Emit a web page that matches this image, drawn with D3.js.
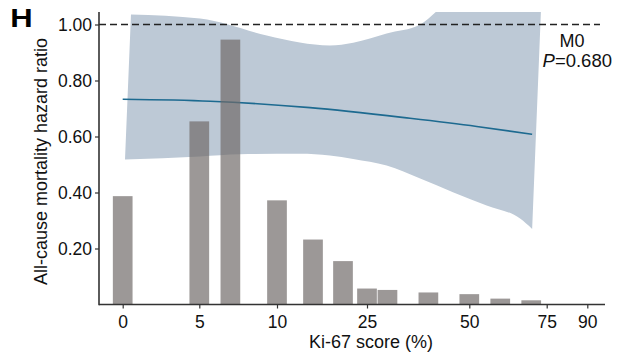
<!DOCTYPE html>
<html>
<head>
<meta charset="utf-8">
<script src="https://cdn.jsdelivr.net/npm/d3@7"></script>
<style>
  html, body { margin: 0; padding: 0; background: #fff; }
  svg { display: block; font-family: "Liberation Sans", Arial, sans-serif; }
</style>
</head>
<body>
<svg id="chart" width="627" height="356"></svg>
<script>
// ---- data ----
const xTickValues = [0, 5, 10, 25, 50, 75, 90];
const xTickLabels = ["0", "5", "10", "25", "50", "75", "90"];
const yTickValues = [0.2, 0.4, 0.6, 0.8, 1.0];
const yTickLabels = ["0.20", "0.40", "0.60", "0.80", "1.00"];

const barX = [0, 5, 7, 10, 16, 21, 25, 30, 40, 50, 60, 70];
const barHeight = [0.387, 0.654, 0.946, 0.372, 0.232, 0.155, 0.057, 0.052, 0.043, 0.037, 0.021, 0.015];

const lineX = [0, 5.7, 15.5, 35.5, 52.4, 70.3];
const lineHR = [0.733, 0.726, 0.703, 0.665, 0.636, 0.608];

const upperX = [0.54, 5.05, 9.34, 13.8, 18.8, 22.7, 29.8, 38, 44, 55, 73.4];
const upperHR = [1.036, 1.021, 0.961, 0.936, 0.925, 0.935, 0.968, 1.0, 1.07, 1.12, 1.12];
const lowerX = [0.15, 5.05, 7.62, 13.8, 18.8, 22.7, 29.8, 38, 46, 55.6, 66.4, 70.3];
const lowerHR = [0.518, 0.529, 0.537, 0.538, 0.532, 0.520, 0.496, 0.45, 0.401, 0.354, 0.307, 0.270];

const refLine = 1.0;
const modelLabel = "M0";
const pLabel = "0.680";
const panelLabel = "H";
const xTitle = "Ki-67 score (%)";
const yTitle = "All-cause mortality hazard ratio";

// ---- layout ----
const svg = d3.select("#chart");
const axisColor = "#333";
const yMax = 1.045;

// non-linear (piecewise) x scale, knots at tick values
const x = d3.scaleLinear()
  .domain(xTickValues)
  .range([122.7, 199.3, 277, 367, 469.3, 546.7, 587.3]);
const y = d3.scaleLinear().domain([0, 1]).range([304.5, 24.5]);

const xLeft = 99, xRight = 605;

// clip
svg.append("clipPath").attr("id", "clip")
  .append("rect").attr("x", xLeft).attr("y", y(yMax))
  .attr("width", xRight - xLeft).attr("height", y(0) - y(yMax));

// confidence band
const up = upperX.map((d, i) => [x(d), y(upperHR[i])]);
const lo = lowerX.map((d, i) => [x(d), y(lowerHR[i])]).reverse();
const mono = d3.line().curve(d3.curveMonotoneX);
const bandPath = mono(up) + "L" + mono(lo).slice(1) + "Z";
svg.append("path")
  .attr("d", bandPath)
  .attr("fill", "#bdc9d6")
  .attr("clip-path", "url(#clip)");

// fitted line
svg.append("path")
  .datum(lineX.map((d, i) => [d, lineHR[i]]))
  .attr("d", d3.line().x(d => x(d[0])).y(d => y(d[1])).curve(d3.curveMonotoneX))
  .attr("fill", "none")
  .attr("stroke", "#1d6a90")
  .attr("stroke-width", 1.6);

// bars (histogram)
const barW = 19.7;
svg.append("g").selectAll("rect")
  .data(barX.map((d, i) => ({ x: d, h: barHeight[i] })))
  .join("rect")
  .attr("x", d => x(d.x) - barW / 2)
  .attr("y", d => y(d.h))
  .attr("width", barW)
  .attr("height", d => y(0) - y(d.h))
  .attr("fill", "#6f6a68")
  .attr("fill-opacity", 0.69);

// reference dashed line
svg.append("line")
  .attr("x1", xLeft).attr("x2", 600)
  .attr("y1", y(refLine)).attr("y2", y(refLine))
  .attr("stroke", "#222").attr("stroke-width", 1.4)
  .attr("stroke-dasharray", "7,4");

// axes
const xAxis = d3.axisBottom(x).tickValues(xTickValues)
  .tickFormat((d, i) => xTickLabels[i]).tickSize(4).tickSizeOuter(0).tickPadding(7);
const gx = svg.append("g").attr("transform", `translate(0,${y(0)})`).call(xAxis);
gx.select(".domain").remove();
gx.append("line").attr("x1", xLeft).attr("x2", xRight).attr("y1", 0).attr("y2", 0)
  .attr("stroke", axisColor).attr("stroke-width", 1.6);
gx.selectAll(".tick line").attr("stroke", axisColor).attr("stroke-width", 1.2);
gx.selectAll(".tick text").attr("fill", "#111").attr("font-size", 17.5)
  .attr("font-family", "Liberation Sans, Arial, sans-serif");

const yAxis = d3.axisLeft(y).tickValues(yTickValues)
  .tickFormat((d, i) => yTickLabels[i]).tickSize(4).tickSizeOuter(0).tickPadding(3);
const gy = svg.append("g").attr("transform", `translate(${xLeft},0)`).call(yAxis);
gy.select(".domain").remove();
gy.append("line").attr("x1", 0).attr("x2", 0).attr("y1", y(yMax)).attr("y2", y(0) + 0.8)
  .attr("stroke", axisColor).attr("stroke-width", 1.6);
gy.selectAll(".tick line").attr("stroke", axisColor).attr("stroke-width", 1.2);
gy.selectAll(".tick text").attr("fill", "#111").attr("font-size", 17.5)
  .attr("font-family", "Liberation Sans, Arial, sans-serif");

// titles
svg.append("text")
  .attr("x", 371).attr("y", 348)
  .attr("text-anchor", "middle").attr("font-size", 18).attr("fill", "#111")
  .text(xTitle);
svg.append("text")
  .attr("transform", "translate(47,161.5) rotate(-90)")
  .attr("text-anchor", "middle").attr("font-size", 18).attr("fill", "#111")
  .text(yTitle);

// panel label
svg.append("text")
  .attr("x", 10.2).attr("y", 26.7)
  .attr("font-size", 25).attr("font-weight", "bold").attr("fill", "#000")
  .attr("textLength", 22.4).attr("lengthAdjust", "spacingAndGlyphs")
  .text(panelLabel);

// annotation
svg.append("text")
  .attr("x", 572).attr("y", 47)
  .attr("text-anchor", "middle").attr("font-size", 18).attr("fill", "#111")
  .text(modelLabel);
const pt = svg.append("text")
  .attr("x", 612).attr("y", 67)
  .attr("text-anchor", "end").attr("font-size", 18.5).attr("fill", "#111");
pt.append("tspan").attr("font-style", "italic").text("P");
pt.append("tspan").text("=" + pLabel);
</script>
</body>
</html>
